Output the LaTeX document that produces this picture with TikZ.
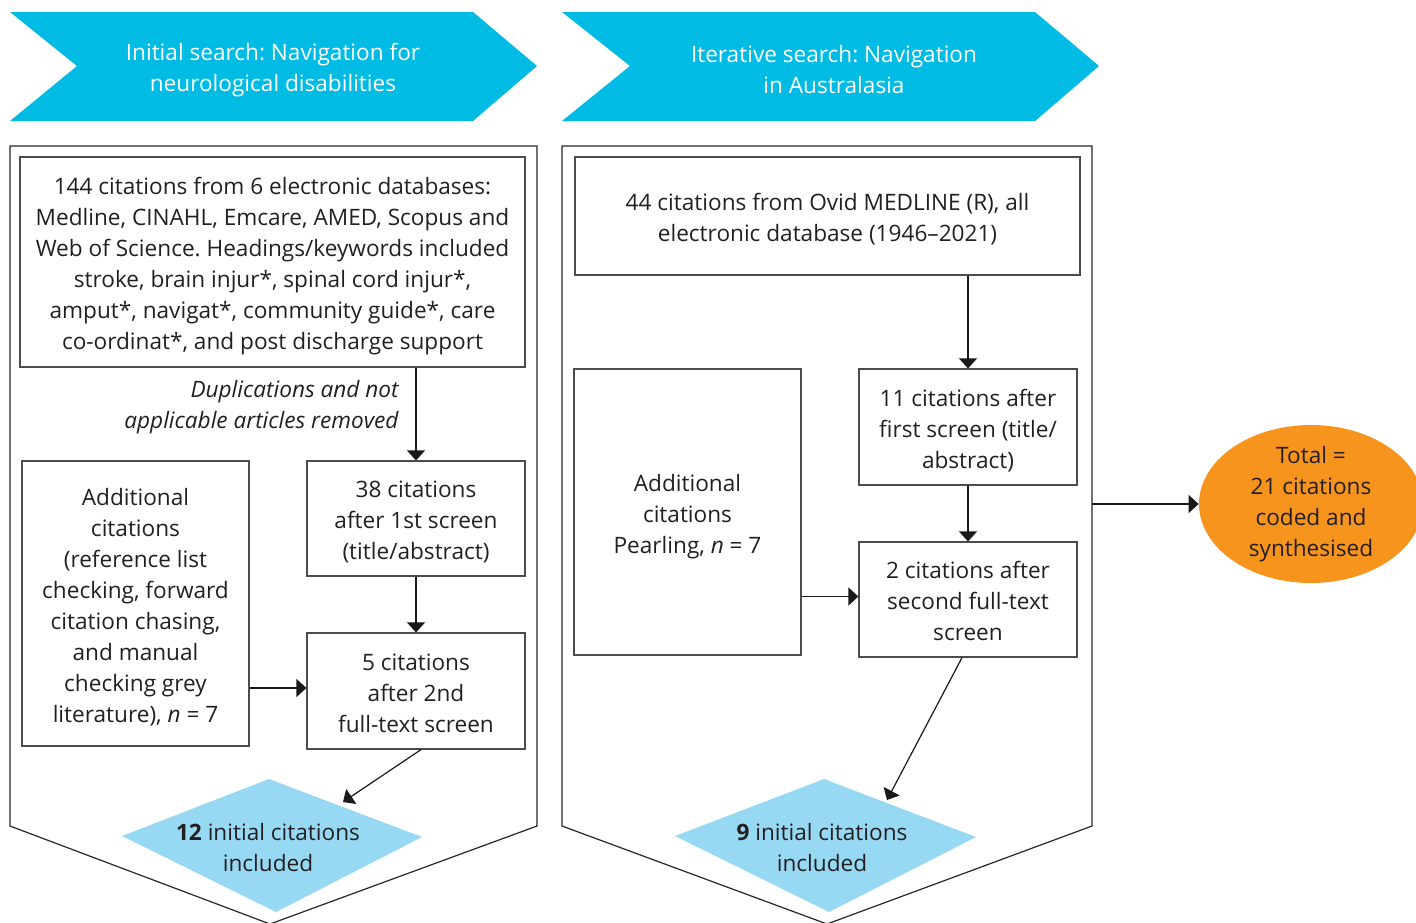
\documentclass[tikz,border=0pt]{standalone}
\usepackage{fontspec}
\setmainfont{Open Sans}
\usetikzlibrary{arrows.meta, shapes.geometric}
\frenchspacing

\definecolor{hdrblue}{HTML}{00BCE4}
\definecolor{dmdblue}{HTML}{97D9F2}
\definecolor{totorange}{HTML}{F7941D}
\definecolor{txtgray}{HTML}{231F20}
\newcommand{\boxfont}{\fontsize{11.3}{15.5}\selectfont}
\newcommand{\topfill}{\rule{0pt}{14.8pt}}

\begin{document}
\begin{tikzpicture}[x=0.5pt, y=-0.5pt,
      box/.style={rectangle, draw=black!70, line width=0.6pt, align=center,
        font=\boxfont, text=txtgray, inner sep=0pt},
      hdr/.style={align=center, font=\boxfont, text=white},
      dtxt/.style={align=center, font=\boxfont, text=txtgray},
      tot/.style={ellipse, fill=totorange, align=center, font=\boxfont,
        text=txtgray, inner sep=-3.5pt, minimum width=112pt,
        minimum height=79pt},
      panel/.style={draw=black!85, line width=0.6pt},
      arr/.style={-{Triangle[length=5pt, width=9pt]}, draw=black!90,
        line width=0.6pt}
    ]
    \useasboundingbox (0,0) rectangle (1416,922);
    % === Headers ===
    \fill[hdrblue] (10,12) -- (473,12) -- (537,66) -- (473,121) -- (10,121)
    -- (77,66) -- cycle;
    \fill[hdrblue] (562,12) -- (1035,12) -- (1099,66) -- (1035,121)
    -- (562,121) -- (630,66) -- cycle;
    \node[hdr] (h1) at (273,70) {Initial search: Navigation for\\
    neurological disabilities};
    \node[hdr] (h2) at (834,70) {Iterative search: Navigation\\
    in Australasia};
    % === Panels ===
    \draw[panel] (10,146) -- (10,826) -- (270,924) -- (537,826) -- (537,146)
    -- cycle;
    \draw[panel] (562,146) -- (562,826) -- (827,924) -- (1092,826)
    -- (1092,146) -- cycle;
    % included diamonds
    \fill[dmdblue] (122,836) -- (269,779) -- (422,837) -- (276,912) -- cycle;
    \fill[dmdblue] (675,836) -- (824,779) -- (976,837) -- (829,912) -- cycle;
    \node[dtxt] (d1) at (268,848) {{\bfseries 12} initial citations\\included};
    \node[dtxt] (d2) at (822,848) {{\bfseries 9} initial citations\\included};
    \coordinate (d1in) at (343,802);
    \coordinate (d2in) at (887,800);
    % === Left panel: initial search ===
    \node[box, minimum width=252.5pt, minimum height=105pt] (b1) at (272.5,262)
    {\topfill 144 citations from 6 electronic databases:\\
    Medline, CINAHL, Emcare, AMED, Scopus and\\
    Web of Science. Headings/keywords included\\
    stroke, brain injur*, spinal cord injur*,\\
    amput*, navigat*, community guide*, care\\
    co-ordinat*, and post discharge support\strut};
    \node[font=\boxfont\itshape, text=txtgray, align=right, anchor=east,
    inner sep=0pt] (rm) at (399,407)
    {Duplications and not\\applicable articles removed};
    \node[box, minimum width=109pt, minimum height=57.5pt] (b2) at (416,518.5)
    {\topfill 38 citations\\after 1st screen\\(title/abstract)\strut};
    \node[box, minimum width=109pt, minimum height=58pt] (b3) at (416,691)
    {\topfill 5 citations\\after 2nd\\full-text screen\strut};
    \node[box, minimum width=113.5pt, minimum height=142.5pt] (b4)
    at (135.5,603.5)
    {\topfill Additional\\citations\\(reference list\\checking, forward\\
    citation chasing,\\and manual\\checking grey\\
    literature), \textit{n} = 7\strut};
    \draw[arr] (b1.south -| b2.north) -- (b2.north);
    \draw[arr] (b2) -- (b3);
    \draw[arr] ([yshift=1.5pt]b4.east |- b3.west) -- ([yshift=1.5pt]b3.west);
    \draw[arr] ([xshift=2.5pt]b3.south) -- (d1in);
    % === Right panel: iterative search ===
    \node[box, minimum width=252.5pt, minimum height=59pt] (c1) at (827.5,216)
    {\topfill 44 citations from Ovid MEDLINE (R), all\\
    electronic database (1946--2021)\strut};
    \node[box, minimum width=109pt, minimum height=58pt] (c2) at (968,427)
    {\topfill 11 citations after\\first screen (title/\\abstract)\strut};
    \node[box, minimum width=109pt, minimum height=57.5pt] (c3) at (968,599.5)
    {\topfill 2 citations after\\second full-text\\screen\strut};
    \node[box, minimum width=113.5pt, minimum height=143pt] (c4) at (687.5,512)
    {\topfill Additional\\citations\\Pearling, \textit{n} = 7\strut};
    \draw[arr] (c1.south -| c2.north) -- (c2.north);
    \draw[arr] (c2) -- (c3);
    \draw[arr] ([yshift=1.5pt]c4.east |- c3.west) -- ([yshift=1.5pt]c3.west);
    \draw[arr] ([xshift=-3pt]c3.south) -- (d2in);
    % === Total ===
    \node[tot] (t) at (1311,504)
    {\strut Total =\\21 citations\\coded and\\synthesised\strut};
    \coordinate (p2r) at (1092,504);
    \draw[arr] (p2r) -- (t.west);
  \end{tikzpicture}
\end{document}
